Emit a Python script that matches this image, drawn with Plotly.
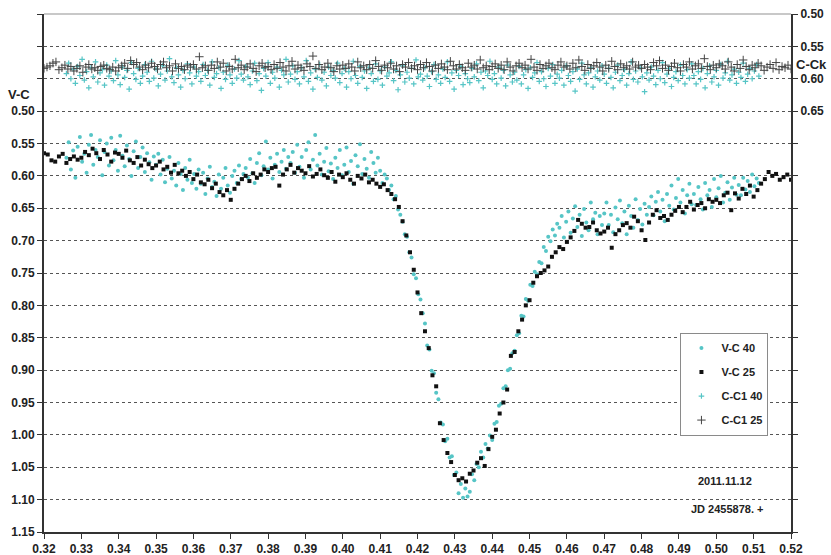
import numpy as np
import plotly.graph_objects as go

# Observation times are JD 2455878 + t; each instrument sampled at a fixed cadence.
T40_START, T40_STEP = 0.3260, 0.0006      # 40 cm telescope (V-C and C-C1)
T25_VC_START, T25_VC_STEP = 0.3200, 0.0010  # 25 cm telescope, V-C
T25_CC_START, T25_CC_STEP = 0.3200, 0.0008  # 25 cm telescope, C-C1

# Differential magnitudes in millimag
vc40_mmag = [
    572, 548, 590, 561, 603, 555, 540, 578, 566, 595, 552, 537, 583, 560, 571, 545, 599, 563, 550, 584,
    541, 576, 560, 592, 538, 569, 585, 553, 574, 600, 562, 547, 588, 571, 556, 594, 565, 579, 606, 570,
    583, 566, 598, 575, 610, 589, 571, 604, 592, 615, 580, 597, 622, 588, 606, 575, 611, 597, 620, 590,
    612, 595, 628, 604, 586, 617, 609, 631, 598, 620, 603, 588, 615, 626, 600, 592, 611, 584, 605, 597,
    588, 603, 574, 596, 611, 580, 565, 599, 585, 547, 590, 572, 604, 583, 566, 594, 578, 560, 589, 571,
    580, 563, 595, 552, 586, 571, 603, 560, 548, 590, 575, 537, 584, 566, 598, 578, 557, 593, 581, 605,
    572, 588, 560, 599, 583, 556, 594, 577, 612, 568, 585, 551, 597, 574, 589, 603, 563, 580, 595, 572,
    592, 611, 598, 604, 622, 615, 636, 631, 652, 660, 671, 690, 694, 718, 726, 752, 758, 783, 791, 812,
    828, 862, 868, 901, 905, 935, 945, 981, 984, 1010, 1006, 1035, 1033, 1062, 1058, 1090, 1076, 1097, 1083, 1095,
    1088, 1061, 1070, 1045, 1050, 1026, 1035, 1014, 1021, 1001, 1008, 983, 980, 955, 952, 928, 925, 900, 898, 874,
    870, 846, 843, 816, 817, 790, 793, 768, 770, 748, 752, 733, 735, 710, 716, 694, 701, 683, 692, 674,
    680, 662, 695, 671, 655, 688, 666, 647, 679, 660, 693, 651, 672, 684, 641, 667, 657, 690, 662, 676,
    658, 641, 676, 660, 687, 649, 667, 638, 673, 655, 690, 646, 662, 680, 636, 668, 651, 675, 643, 660,
    648, 632, 661, 640, 625, 655, 637, 670, 628, 646, 615, 652, 634, 605, 641, 622, 658, 630, 612, 644,
    628, 645, 617, 636, 652, 611, 630, 622, 648, 605, 633, 619, 600, 641, 626, 610, 637, 618, 603, 629,
    614, 630, 603, 621, 608, 625, 598, 616, 604, 611,
]

vc25_mmag = [
    565, 567, 576, 578, 570, 566, 580, 574, 570, 575,
    572, 563, 568, 558, 565, 574, 560, 567, 578, 564,
    566, 572, 561, 576, 580, 571, 584, 575, 582, 588,
    584, 578, 590, 586, 595, 583, 596, 592, 600, 594,
    605, 598, 610, 613, 606, 619, 612, 625, 630, 622,
    637, 620, 612, 605, 600, 608, 596, 603, 598, 590,
    594, 588, 586, 615, 598, 590, 583, 595, 588, 592,
    596, 585, 601, 597, 590, 599, 603, 594, 609, 598,
    602, 596, 606, 612, 600, 604, 598, 610, 606, 612,
    617, 613, 622, 628, 636, 648, 670, 692, 718, 745,
    780, 812, 840, 866, 908, 925, 982, 1008, 1028, 1042,
    1062, 1070, 1067, 1072, 1060, 1055, 1043, 1036, 1048, 1022,
    1003, 992, 967, 950, 930, 878, 872, 840, 822, 800,
    792, 765, 755, 750, 746, 740, 725, 718, 710, 713,
    702, 695, 685, 668, 674, 680, 679, 672, 684, 689,
    686, 680, 711, 690, 684, 676, 673, 680, 663, 670,
    684, 699, 672, 660, 653, 665, 662, 668, 660, 654,
    648, 656, 648, 640, 652, 645, 642, 650, 636, 640,
    637, 642, 630, 626, 653, 627, 635, 620, 628, 615,
    632, 622, 612, 605, 594, 600, 597, 606, 602, 598,
    606,
]

cc40_mmag = [
    592, 576, 600, 585, 607, 581, 595, 570, 602, 589, 614, 583, 597, 574, 605, 591, 586, 610, 579, 596,
    588, 603, 572, 594, 609, 582, 598, 587, 616, 575, 592, 601, 584, 607, 596, 578, 590, 604, 573, 599,
    585, 611, 593, 580, 602, 588, 569, 597, 606, 583, 594, 613, 587, 600, 577, 591, 608, 582, 596, 589,
    604, 578, 595, 587, 610, 574, 598, 592, 583, 615, 590, 601, 579, 594, 607, 585, 599, 572, 593, 602,
    581, 597, 609, 588, 576, 603, 592, 618, 584, 596, 575, 607, 590, 599, 582, 613, 587, 594, 570, 605,
    593, 580, 601, 589, 608, 583, 597, 572, 604, 591, 616, 585, 598, 578, 602, 590, 611, 582, 595, 587,
    599, 576, 606, 592, 584, 613, 589, 600, 573, 595, 607, 581, 598, 588, 615, 583, 592, 604, 577, 601,
    588, 610, 582, 596, 591, 574, 603, 587, 617, 594, 580, 605, 590, 599, 584, 608, 571, 597, 593, 602,
    583, 596, 612, 589, 578, 601, 594, 607, 585, 598, 574, 604, 591, 616, 587, 595, 581, 609, 592, 600,
    606, 584, 597, 577, 603, 590, 614, 588, 595, 573, 601, 592, 608, 582, 599, 587, 611, 579, 594, 605,
    590, 602, 581, 608, 594, 586, 615, 583, 598, 591, 575, 604, 589, 600, 612, 584, 596, 578, 607, 593,
    599, 587, 610, 580, 595, 604, 589, 619, 585, 601, 576, 594, 608, 591, 583, 613, 597, 588, 602, 580,
    593, 607, 584, 598, 614, 590, 579, 603, 595, 586, 610, 592, 574, 601, 588, 605, 583, 597, 620, 591,
    602, 582, 596, 609, 587, 600, 575, 606, 593, 584, 612, 598, 589, 603, 579, 595, 608, 586, 599, 577,
    595, 608, 589, 601, 584, 614, 592, 580, 605, 597, 587, 610, 578, 599, 591, 573, 602, 594, 585, 607,
    590, 598, 576, 604, 593, 584, 600, 588, 578, 596,
]

cc25_mmag = [
    584, 582, 580, 576, 574, 586, 583, 579, 585, 581, 588, 584, 580, 590, 582, 578, 585, 583, 587, 581, 579, 584, 586, 582, 588,
    583, 580, 576, 584, 572, 578, 575, 582, 586, 579, 583, 576, 581, 585, 578, 574, 583, 580, 588, 577, 584, 581, 586, 579, 582,
    578, 585, 566, 583, 580, 587, 579, 584, 574, 582, 576, 588, 581, 585, 570, 583, 579, 586, 582, 577, 584, 589, 580, 576, 583,
    581, 586, 578, 584, 575, 582, 588, 580, 573, 585, 579, 583, 587, 577, 581, 565, 584, 578, 586, 582, 576, 583, 589, 580, 585,
    579, 584, 577, 582, 588, 574, 583, 580, 586, 578, 584, 572, 581, 587, 579, 583, 576, 585, 580, 589, 578, 582, 575, 584, 580,
    586, 578, 583, 575, 581, 588, 579, 584, 577, 582, 586, 573, 580, 585, 578, 583, 587, 576, 582, 579, 585, 571, 583, 580, 586,
    581, 577, 584, 579, 586, 574, 582, 588, 580, 576, 583, 579, 585, 570, 582, 587, 578, 584, 580, 576, 583, 586, 579, 574, 582,
    580, 585, 576, 583, 571, 581, 587, 578, 584, 580, 575, 582, 588, 579, 584, 573, 581, 586, 577, 583, 580, 585, 574, 582, 579,
    584, 578, 582, 586, 575, 580, 572, 584, 579, 587, 581, 576, 583, 588, 578, 582, 574, 585, 580, 577, 584, 569, 581, 586, 579,
    583, 577, 580, 585, 574, 582, 588, 578, 584, 571, 581, 586, 579, 583, 576, 580, 587, 582, 578, 584, 575, 586, 581, 583, 579,
    585,
]

# Axis ticks
x_ticks = [0.32, 0.33, 0.34, 0.35, 0.36, 0.37, 0.38, 0.39, 0.40, 0.41, 0.42,
           0.43, 0.44, 0.45, 0.46, 0.47, 0.48, 0.49, 0.50, 0.51, 0.52]
vc_ticks = [0.35, 0.40, 0.45, 0.50, 0.55, 0.60, 0.65, 0.70, 0.75, 0.80, 0.85,
            0.90, 0.95, 1.00, 1.05, 1.10, 1.15]
vc_labels = ["", "", ""] + [f"{v:.2f}" for v in vc_ticks[3:]]
cc_ticks = [0.50, 0.55, 0.60, 0.65, 0.70, 0.75, 0.80, 0.85, 0.90, 0.95, 1.00,
            1.05, 1.10, 1.15, 1.20, 1.25, 1.30]
cc_labels = [f"{v:.2f}" for v in cc_ticks[:4]] + [""] * (len(cc_ticks) - 4)

vc40 = np.array(vc40_mmag) / 1000.0
vc25 = np.array(vc25_mmag) / 1000.0
cc40 = np.array(cc40_mmag) / 1000.0
cc25 = np.array(cc25_mmag) / 1000.0

t_vc40 = T40_START + T40_STEP * np.arange(len(vc40))
t_cc40 = T40_START + T40_STEP * np.arange(len(cc40))
t_vc25 = T25_VC_START + T25_VC_STEP * np.arange(len(vc25))
t_cc25 = T25_CC_START + T25_CC_STEP * np.arange(len(cc25))

CYAN = "#56C5C6"
INK = "#222222"
AXIS = "#333333"
FONT = "Liberation Sans, Arial, sans-serif"

fig = go.Figure()
fig.add_trace(go.Scatter(
    x=t_vc40, y=vc40, mode="markers", name="V-C 40", legendgroup="a",
    marker=dict(symbol="circle", size=4, color=CYAN, line=dict(width=0)),
))
fig.add_trace(go.Scatter(
    x=t_vc25, y=vc25, mode="markers", name="V-C 25", legendgroup="b",
    marker=dict(symbol="square", size=4, color="#111111", line=dict(width=0)),
))
fig.add_trace(go.Scatter(
    x=t_cc40, y=cc40, mode="markers", name="C-C1 40", legendgroup="c", yaxis="y2",
    marker=dict(symbol="cross-thin", size=4, color=CYAN, line=dict(width=1.2, color=CYAN)),
))
fig.add_trace(go.Scatter(
    x=t_cc25, y=cc25, mode="markers", name="C-C1 25", legendgroup="d", yaxis="y2",
    marker=dict(symbol="cross-thin", size=6, color="#444444", line=dict(width=1, color="#444444")),
))

tickfont = dict(family=FONT, size=12, color=INK, weight="bold")


def label(text, x, y, size=11):
    return dict(text=f"<b>{text}</b>", xref="paper", yref="paper", x=x, y=y,
                xanchor="center", yanchor="middle", showarrow=False,
                font=dict(family=FONT, size=size, color=INK))


fig.update_layout(
    width=831, height=555,
    margin=dict(l=44, r=40, t=14, b=23, autoexpand=False),
    paper_bgcolor="white", plot_bgcolor="white",
    font=dict(family=FONT, size=12, color=INK),
    xaxis=dict(
        range=[0.32, 0.52], tickvals=x_ticks, ticktext=[f"{v:.2f}" for v in x_ticks],
        ticks="outside", ticklen=5, tickwidth=1, tickcolor=AXIS,
        showline=True, linecolor=AXIS, linewidth=2,
        showgrid=False, zeroline=False, tickfont=tickfont, automargin=False,
    ),
    yaxis=dict(
        range=[1.15, 0.35], tickvals=vc_ticks, ticktext=vc_labels,
        ticks="outside", ticklen=5, tickwidth=1, tickcolor=AXIS,
        showline=True, linecolor=AXIS, linewidth=2,
        showgrid=True, gridcolor="#555555", gridwidth=1, griddash="dot",
        zeroline=False, tickfont=tickfont, automargin=False,
    ),
    yaxis2=dict(
        overlaying="y", side="right", range=[1.30, 0.50],
        tickvals=cc_ticks, ticktext=cc_labels,
        ticks="outside", ticklen=5, tickwidth=1, tickcolor=AXIS,
        showline=True, linecolor=AXIS, linewidth=2,
        showgrid=False, zeroline=False, tickfont=tickfont, automargin=False,
    ),
    legend=dict(
        x=0.852, y=0.385, xanchor="left", yanchor="top",
        bgcolor="white", bordercolor="#8a8a8a", borderwidth=1,
        font=dict(family=FONT, size=11, color=INK, weight="bold"),
        tracegroupgap=5, traceorder="grouped",
    ),
    shapes=[dict(
        type="line", xref="paper", yref="paper", x0=0, x1=1, y0=1, y1=1,
        line=dict(color="#c8c8c8", width=2), layer="above",
    )],
    annotations=[
        label("V-C", -0.034, 0.844, 13),
        label("C-Ck", 1.028, 0.903, 13),
        label("2011.11.12", 0.912, 0.099),
        label("JD 2455878. +", 0.914, 0.044),
    ],
)

fig.write_html("out.html", config={"displayModeBar": False})
